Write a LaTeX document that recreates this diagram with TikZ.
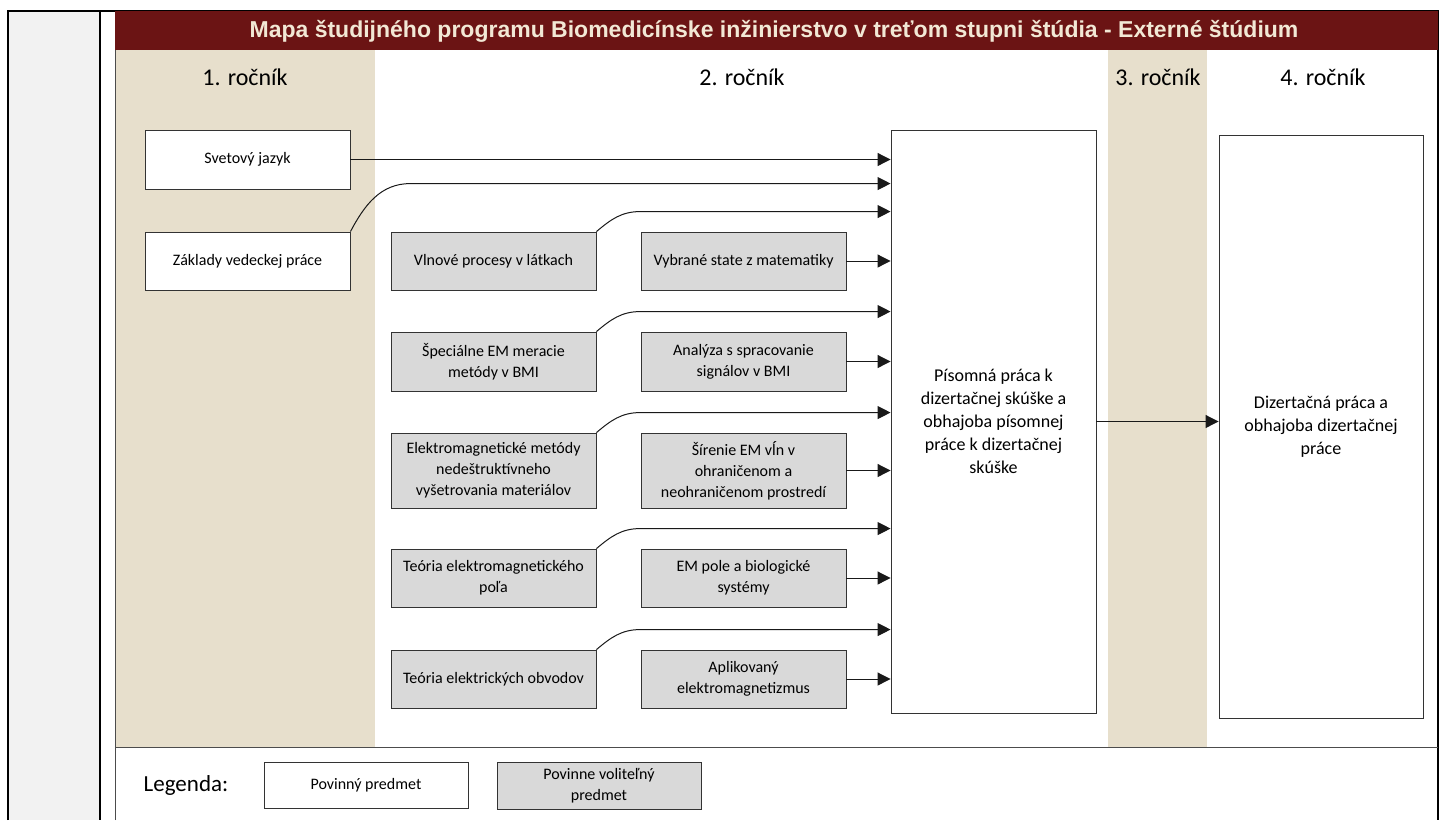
\documentclass[tikz,border=0pt]{standalone}
\usepackage{fontspec}
\setmainfont{Carlito}
\newfontfamily\hlavickafont{Liberation Sans}
\usetikzlibrary{arrows.meta}

\definecolor{tmavocervena}{HTML}{6B1414}
\definecolor{bezova}{HTML}{E7DFCC}
\definecolor{svetlobezova}{HTML}{F2E8D5}
\definecolor{seda}{HTML}{D9D9D9}
\definecolor{okraj}{HTML}{F2F2F2}

\begin{document}
\begin{tikzpicture}[x = 1pt, y = -1pt,
        predmet/.style = {draw = black!80, line width = 0.9pt, align = center,
            minimum width = 205pt, minimum height = 58pt, inner sep = 2pt,
            font = \fontsize{16}{21}\selectfont},
        povinny/.style = {predmet, fill = white},
        volitelny/.style = {predmet, fill = seda},
        velky/.style = {predmet, fill = white, minimum height = 583pt,
            font = \fontsize{18}{23}\selectfont},
        sipka/.style = {-{Triangle[length = 13pt, width = 13pt]}, line width = 1pt, black!90},
        rocnik/.style = {font = \fontsize{24}{28}\selectfont}]
        \useasboundingbox (0, 0) rectangle (1439, 820);

        % okraj tabulky
        \fill [okraj] (8, 11) rectangle (100, 820);
        \fill [bezova] (115, 50) rectangle (375, 747);
        \fill [bezova] (1108, 50) rectangle (1207, 747);
        \draw [line width = 2pt] (8, 820) -- (8, 11) -- (1438, 11) -- (1438, 820);
        \draw [line width = 2pt] (100, 11) -- (100, 820);
        \draw [black!70, line width = 1pt] (115, 820) -- (115, 50);
        \draw [black!70, line width = 1pt] (115, 747) -- (1438, 747);

        % hlavicka
        \fill [tmavocervena] (115, 11) rectangle (1438, 50);
        \node [font = \hlavickafont\bfseries\fontsize{23}{27}\selectfont, text = svetlobezova]
            at (774, 31) {Mapa študijného programu Biomedicínske inžinierstvo v treťom stupni štúdia - Externé štúdium};

        % rocniky
        \node [rocnik] at (245, 77) {1. ročník};
        \node [rocnik] at (742, 77) {2. ročník};
        \node [rocnik] at (1158, 77) {3. ročník};
        \node [rocnik] at (1323, 77) {4. ročník};

        % 1. rocnik
        \node [povinny, minimum height = 59pt] (jazyk) at (247.5, 159.5) {Svetový jazyk};
        \node [povinny] (zaklady) at (247.5, 261) {Základy vedeckej práce};

        % 2. rocnik
        \node [volitelny] (vlnove) at (493.5, 261) {Vlnové procesy v látkach};
        \node [volitelny] (matematika) at (743.5, 261) {Vybrané state z matematiky};
        \node [volitelny, minimum height = 59pt] (meracie) at (493.5, 361.5) {Špeciálne EM meracie\\metódy v BMI};
        \node [volitelny, minimum height = 59pt] (signaly) at (743.5, 361.5) {Analýza s spracovanie\\signálov v BMI};
        \node [volitelny, minimum height = 75pt] (nedestruktivne) at (493.5, 470.5) {Elektromagnetické metódy\\nedeštruktívneho\\vyšetrovania materiálov};
        \node [volitelny, minimum height = 75pt] (sirenie) at (743.5, 470.5) {Šírenie EM vĺn v\\ohraničenom a\\neohraničenom prostredí};
        \node [volitelny] (pole) at (493.5, 578) {Teória elektromagnetického\\poľa};
        \node [volitelny] (biologicke) at (743.5, 578) {EM pole a biologické\\systémy};
        \node [volitelny] (obvody) at (493.5, 679) {Teória elektrických obvodov};
        \node [volitelny] (aplikovany) at (743.5, 679) {Aplikovaný\\elektromagnetizmus};

        \node [velky] (pisomna) at (993.5, 421.5) {Písomná práca k\\dizertačnej skúške a\\obhajoba písomnej\\práce k dizertačnej\\skúške};

        % 4. rocnik
        \node [velky, minimum width = 204pt] (dizertacna) at (1321, 426.5) {Dizertačná práca a\\obhajoba dizertačnej\\práce};

        % sipky
        \draw [sipka] (jazyk) -- (jazyk -| pisomna.west);
        \draw [sipka] (zaklady.north east) to [out = 62, in = 180] ++(60, -48) coordinate (z1) -- (z1 -| pisomna.west);
        \foreach \a in {vlnove, meracie, nedestruktivne, pole, obvody}
            \draw [sipka] (\a.north east) to [out = 40, in = 180] ++(44, -20) coordinate (k1) -- (k1 -| pisomna.west);
        \foreach \b in {matematika, signaly, sirenie, biologicke, aplikovany}
            \draw [sipka] (\b) -- (\b -| pisomna.west);
        \draw [sipka] (pisomna) -- (pisomna -| dizertacna.west);

        % legenda
        \node [rocnik, font = \fontsize{23}{27}\selectfont] (legenda) at (186, 785) {Legenda:};
        \node [povinny, minimum width = 204pt, minimum height = 46pt] (leg1) at (366, 785) {Povinný predmet};
        \node [volitelny, minimum width = 204pt, minimum height = 47pt] (leg2) at (599, 785.5) {Povinne voliteľný\\predmet};
\end{tikzpicture}
\end{document}
